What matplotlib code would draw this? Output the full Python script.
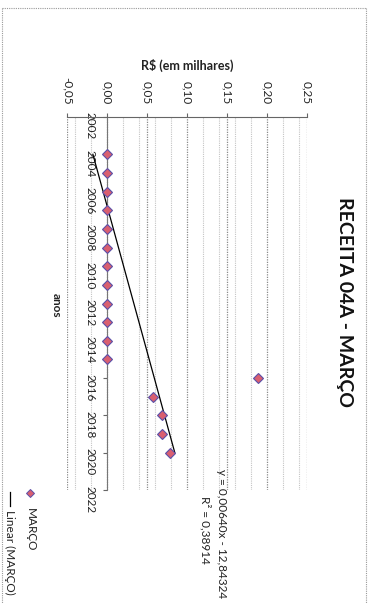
import numpy as np
import matplotlib.pyplot as plt
from matplotlib.lines import Line2D
from matplotlib.ticker import MultipleLocator, FuncFormatter

plt.rcParams['font.family'] = ['Lato', 'DejaVu Sans']

anos = [2004, 2005, 2006, 2007, 2008, 2009, 2010, 2011, 2012, 2013, 2014, 2015,
        2016, 2017, 2018, 2019, 2020]
valores = [0.0, 0.0, 0.0, 0.0, 0.0, 0.0, 0.0, 0.0, 0.0, 0.0, 0.0, 0.0,
           0.189, 0.058, 0.069, 0.069, 0.079]
# excel trendline as printed on the chart
trend_a = 0.00640
trend_b = -12.84324
eq_txt = 'y = 0,00640x - 12,84324'
r2_txt = 'R² = 0,38914'
titulo = 'RECEITA 04A - MARÇO'
serie = 'MARÇO'

W, H = 372, 603
fig = plt.figure(figsize=(W / 100, H / 100), dpi=100)

# chart is scanned rotated 90 deg clockwise: values run left->right, years top->bottom
ax = fig.add_axes([67 / W, 1 - 490 / H, 240 / W, 373 / H])
ax.set_xlim(-0.05, 0.25)
ax.set_ylim(2022, 2002)

ax.xaxis.set_major_locator(MultipleLocator(0.05))
ax.xaxis.set_minor_locator(MultipleLocator(0.02))
ax.xaxis.set_major_formatter(FuncFormatter(lambda v, p: f'{round(v, 2) + 0:.2f}'.replace('.', ',')))
ax.xaxis.tick_top()
ax.tick_params(axis='x', which='major', direction='out', length=3, width=0.8,
               color='#666666', labelrotation=-90, labelsize=8.5, pad=6, labelcolor='#222222')
ax.tick_params(axis='x', which='minor', length=0)

ax.yaxis.set_major_locator(MultipleLocator(2))
ax.tick_params(axis='y', direction='out', length=3, width=0.8, color='#666666',
               labelrotation=-90, labelsize=8.5, pad=5, labelcolor='#222222')
for lab in ax.get_yticklabels():
    lab.set_verticalalignment('center')

ax.grid(axis='x', which='major', color='#8a8a8a', ls=(0, (1, 1)), lw=0.9)
ax.grid(axis='x', which='minor', color='#c4c4c4', ls=(0, (1, 1)), lw=0.8)
ax.grid(axis='y', visible=False)
ax.set_axisbelow(True)

ax.spines['top'].set_color('#666666')
ax.spines['left'].set_position(('data', 0))
ax.spines['left'].set_color('#777777')
ax.spines['right'].set_visible(False)
ax.spines['bottom'].set_visible(False)

ax.plot(valores, anos, 'D', ms=5, mfc='#d95f70', mec='#5a4fa8', mew=0.8, zorder=4)
xs = np.array([anos[0], anos[-1]])
ax.plot(trend_a * xs + trend_b, xs, color='black', lw=0.9, zorder=3)

# text
fig.text(187 / W, 1 - 65 / H, 'R$ (em milhares)', ha='center', va='center',
         fontsize=9, fontweight='bold', color='#222222')
fig.text(56 / W, 1 - 305 / H, 'anos', rotation=-90, ha='center', va='center',
         fontsize=8.5, fontweight='bold', color='#222222')
fig.text(345 / W, 1 - 302 / H, titulo, rotation=-90, ha='center', va='center',
         fontsize=14, fontweight='bold', color='#111111')
fig.text(222 / W, 1 - 534 / H, eq_txt, rotation=-90, ha='center', va='center',
         fontsize=8.5, color='#222222')
fig.text(205 / W, 1 - 530 / H, r2_txt, rotation=-90, ha='center', va='center',
         fontsize=8.5, color='#222222')

# legend
fig.add_artist(Line2D([30 / W], [1 - 493 / H], marker='D', ms=4, mfc='#d95f70',
                      mec='#5a4fa8', mew=0.7, ls='none'))
fig.add_artist(Line2D([10 / W, 10 / W], [1 - 492 / H, 1 - 506 / H], color='black', lw=0.9))
fig.text(30 / W, 1 - 508 / H, serie, rotation=-90, ha='center', va='top',
         fontsize=8.5, color='#222222')
fig.text(10 / W, 1 - 510 / H, 'Linear (' + serie + ')', rotation=-90, ha='center', va='top',
         fontsize=8.5, color='#222222')

# chart border
for xx, yy in [([2, 366], [8, 8]), ([2, 2], [8, 603]), ([366, 366], [8, 603])]:
    fig.add_artist(Line2D([x / W for x in xx], [1 - y / H for y in yy],
                          color='#9a9a9a', lw=0.8, ls=(0, (1, 1))))

fig.savefig('out.png', dpi=100)
